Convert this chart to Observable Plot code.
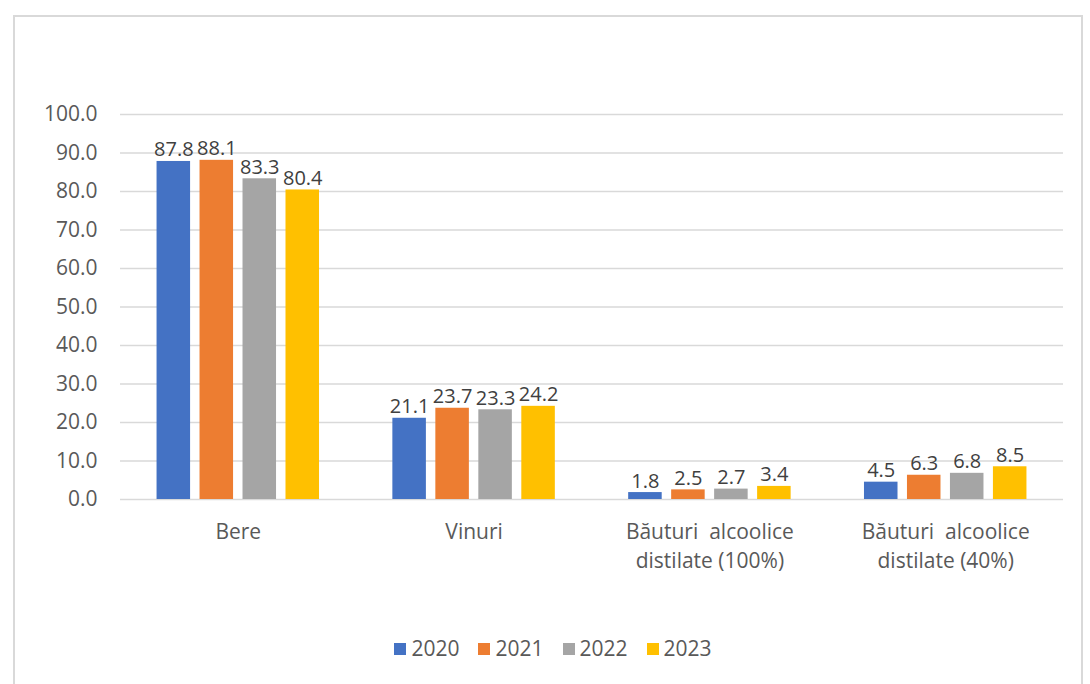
<!DOCTYPE html>
<html><head><meta charset="utf-8">
<script src="https://cdn.jsdelivr.net/npm/d3@7"></script>
<script src="https://cdn.jsdelivr.net/npm/@observablehq/plot@0.6"></script>
<style>
body{margin:0;background:#fff;font-family:"Open Sans",sans-serif;}
#frame{position:absolute;left:13px;top:15px;width:1066px;height:700px;border:2px solid #d9d9d9;}
#grid,#chart{position:absolute;left:0;top:0;}
#legend{position:absolute;left:0;width:1076px;top:617px;display:flex;justify-content:center;gap:19px;font-size:21px;line-height:29px;color:#595959;}
#legend .item{display:flex;align-items:center;gap:5px;}
#legend .sw{width:12px;height:12px;display:inline-block;}
</style>
</head><body>
<div id="frame"><div id="grid"></div><div id="chart"></div><div id="legend"></div></div>
<script>
const categories = ["Bere", "Vinuri", "Băuturi\u00a0 alcoolice\ndistilate (100%)", "Băuturi\u00a0 alcoolice\ndistilate (40%)"];
const years = ["2020", "2021", "2022", "2023"];
const colors = ["#4472C4", "#ED7D31", "#A5A5A5", "#FFC000"];
const values2020 = [87.8, 21.1, 1.8, 4.5];
const values2021 = [88.1, 23.7, 2.5, 6.3];
const values2022 = [83.3, 23.3, 2.7, 6.8];
const values2023 = [80.4, 24.2, 3.4, 8.5];
const yTicks = [0, 10, 20, 30, 40, 50, 60, 70, 80, 90, 100];

const series = [values2020, values2021, values2022, values2023];
const rows = [];
categories.forEach((c, i) => years.forEach((y, j) => rows.push({category: c, year: y, value: series[j][i]})));

const common = {
  width: 1066,
  height: 582,
  marginLeft: 105,
  marginRight: 18,
  marginTop: 97,
  marginBottom: 100,
  style: {fontFamily: "'Open Sans', sans-serif", color: "#595959", background: "transparent"},
  y: {domain: [0, 100], label: null}
};

// background: gridlines and y axis spanning the whole frame
const grid = Plot.plot({
  ...common,
  x: {domain: categories, axis: null},
  marks: [
    Plot.ruleY(yTicks, {stroke: "#d9d9d9", strokeWidth: 1.5}),
    Plot.axisY({ticks: yTicks, tickFormat: d3.format(".1f"), tickSize: 0, tickPadding: 23, fontSize: 21, label: null})
  ]
});
document.getElementById("grid").appendChild(grid);

// foreground: grouped bars
const plot = Plot.plot({
  ...common,
  fx: {domain: categories, paddingInner: 0.311, paddingOuter: 0.155, round: false, label: null},
  x: {domain: years, paddingInner: 0.22, paddingOuter: 0, round: false, axis: null},
  color: {domain: years, range: colors},
  marks: [
    Plot.axisFx({anchor: "bottom", tickSize: 0, tickPadding: 19, fontSize: 21, lineHeight: 1.38, label: null}),
    Plot.barY(rows, {fx: "category", x: "year", y: "value", fill: "year"}),
    Plot.text(rows, {fx: "category", x: "year", y: "value", text: d => d.value.toFixed(1), lineAnchor: "bottom", dy: -5, fontSize: 20, fill: "#404040"})
  ]
});
plot.querySelectorAll("[aria-label='y-axis tick label'], [aria-label='y-axis tick']").forEach(n => n.remove());
document.getElementById("chart").appendChild(plot);

const legend = document.getElementById("legend");
years.forEach((y, i) => {
  const item = document.createElement("div");
  item.className = "item";
  const sw = document.createElement("span");
  sw.className = "sw";
  sw.style.background = colors[i];
  const lab = document.createElement("span");
  lab.textContent = y;
  item.appendChild(sw);
  item.appendChild(lab);
  legend.appendChild(item);
});
</script>
</body></html>
